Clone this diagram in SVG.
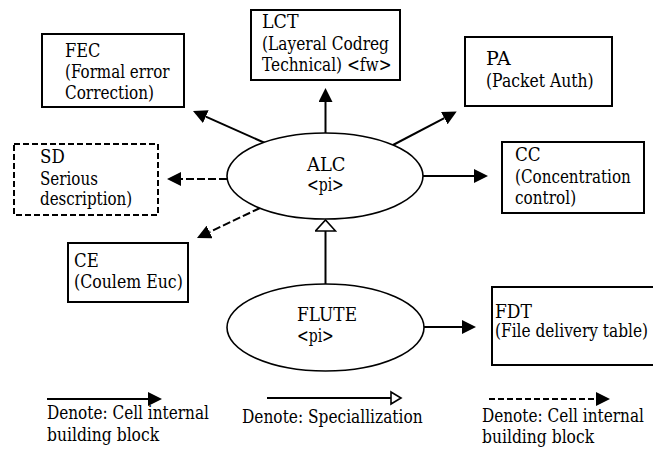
<svg xmlns="http://www.w3.org/2000/svg" width="653" height="449" viewBox="0 0 653 449">
  <style>
    .t { font-family: "DejaVu Serif", serif; font-size: 18px; fill: #000; }
    .box { fill: #fff; stroke: #000; stroke-width: 2; }
    .dbox { fill: #fff; stroke: #000; stroke-width: 2; stroke-dasharray: 6 3; }
    .oval { fill: #fff; stroke: #000; stroke-width: 1.6; }
    .link { fill: none; stroke: #000; stroke-width: 2; }
    .dash { fill: none; stroke: #000; stroke-width: 2; stroke-dasharray: 8 3; }
    .ldash { fill: none; stroke: #000; stroke-width: 2.2; stroke-dasharray: 6 3; }
  </style>
  <defs>
    <marker id="filled" markerUnits="userSpaceOnUse" markerWidth="15" markerHeight="14" refX="0" refY="7" orient="auto">
      <path d="M0,0 L14,7 L0,14 z" fill="#000"/>
    </marker>
    <marker id="hollow" markerUnits="userSpaceOnUse" markerWidth="14" markerHeight="22" refX="1" refY="11" orient="auto">
      <path d="M1,1 L12,11 L1,21 z" fill="#fff" stroke="#000" stroke-width="1.6"/>
    </marker>
    <marker id="hollowSmall" markerUnits="userSpaceOnUse" markerWidth="14" markerHeight="16" refX="1" refY="8" orient="auto">
      <path d="M1,2 L11,8 L1,14 z" fill="#fff" stroke="#000" stroke-width="1.6"/>
    </marker>
  </defs>

  <!-- connectors -->
  <g id="connectors">
    <line class="link" x1="325.5" y1="133" x2="325.5" y2="102" marker-end="url(#filled)"/>
    <line class="link" x1="265" y1="143" x2="205.8" y2="116.7" marker-end="url(#filled)"/>
    <line class="link" x1="393" y1="145" x2="444.3" y2="118.1" marker-end="url(#filled)"/>
    <line class="link" x1="423" y1="176" x2="474" y2="176" marker-end="url(#filled)"/>
    <line class="dash" x1="227" y1="179" x2="181" y2="179" marker-end="url(#filled)"/>
    <line class="dash" x1="260" y1="208" x2="209.6" y2="232" marker-end="url(#filled)"/>
    <line class="link" x1="325.5" y1="284" x2="325.5" y2="231" marker-end="url(#hollow)"/>
    <line class="link" x1="424" y1="327" x2="462" y2="327" marker-end="url(#filled)"/>
  </g>

  <!-- ALC -->
  <g id="alc">
    <ellipse class="oval" cx="325" cy="176" rx="98" ry="43"/>
    <text class="t" x="307" y="171" textLength="38.6" lengthAdjust="spacingAndGlyphs">ALC</text>
    <text class="t" x="307" y="191" textLength="36.8" lengthAdjust="spacingAndGlyphs">&lt;pi&gt;</text>
  </g>

  <!-- FLUTE -->
  <g id="flute">
    <ellipse class="oval" cx="325.5" cy="327.5" rx="98.5" ry="43.5"/>
    <text class="t" x="297" y="321" textLength="60" lengthAdjust="spacingAndGlyphs">FLUTE</text>
    <text class="t" x="297" y="342" textLength="36.8" lengthAdjust="spacingAndGlyphs">&lt;pi&gt;</text>
  </g>

  <!-- FEC -->
  <g id="fec">
    <rect class="box" x="42" y="34" width="142" height="73"/>
    <text class="t" x="65" y="57" textLength="35.4" lengthAdjust="spacingAndGlyphs">FEC</text>
    <text class="t" x="65" y="78" textLength="104.5" lengthAdjust="spacingAndGlyphs">(Formal error</text>
    <text class="t" x="65" y="99" textLength="89" lengthAdjust="spacingAndGlyphs">Correction)</text>
  </g>

  <!-- LCT -->
  <g id="lct">
    <rect class="box" x="251" y="10" width="149" height="70"/>
    <text class="t" x="262" y="28" textLength="36.5" lengthAdjust="spacingAndGlyphs">LCT</text>
    <text class="t" x="262" y="50" textLength="127" lengthAdjust="spacingAndGlyphs">(Layeral Codreg</text>
    <text class="t" x="262" y="71" textLength="129.5" lengthAdjust="spacingAndGlyphs">Technical) &lt;fw&gt;</text>
  </g>

  <!-- PA -->
  <g id="pa">
    <rect class="box" x="465" y="37" width="147" height="69"/>
    <text class="t" x="486" y="65" textLength="24.7" lengthAdjust="spacingAndGlyphs">PA</text>
    <text class="t" x="486" y="87" textLength="107.7" lengthAdjust="spacingAndGlyphs">(Packet Auth)</text>
  </g>

  <!-- SD -->
  <g id="sd">
    <rect class="dbox" x="14" y="144" width="144" height="71"/>
    <text class="t" x="40" y="163" textLength="24.7" lengthAdjust="spacingAndGlyphs">SD</text>
    <text class="t" x="40" y="185" textLength="57.9" lengthAdjust="spacingAndGlyphs">Serious</text>
    <text class="t" x="40" y="205" textLength="92.2" lengthAdjust="spacingAndGlyphs">description)</text>
  </g>

  <!-- CC -->
  <g id="cc">
    <rect class="box" x="502" y="142" width="142" height="71"/>
    <text class="t" x="515" y="161" textLength="25.7" lengthAdjust="spacingAndGlyphs">CC</text>
    <text class="t" x="515" y="183" textLength="115.8" lengthAdjust="spacingAndGlyphs">(Concentration</text>
    <text class="t" x="515" y="204" textLength="61.1" lengthAdjust="spacingAndGlyphs">control)</text>
  </g>

  <!-- CE -->
  <g id="ce">
    <rect class="box" x="68" y="243" width="120" height="59"/>
    <text class="t" x="74" y="267" textLength="24.7" lengthAdjust="spacingAndGlyphs">CE</text>
    <text class="t" x="74" y="288" textLength="108.8" lengthAdjust="spacingAndGlyphs">(Coulem Euc)</text>
  </g>

  <!-- FDT -->
  <g id="fdt">
    <rect class="box" x="492" y="287" width="170" height="78"/>
    <text class="t" x="495" y="318" textLength="37" lengthAdjust="spacingAndGlyphs">FDT</text>
    <text class="t" x="495" y="337" textLength="153" lengthAdjust="spacingAndGlyphs">(File delivery table)</text>
  </g>

  <!-- legend -->
  <g id="legend">
    <line class="link" x1="47" y1="399" x2="148" y2="399" marker-end="url(#filled)"/>
    <text class="t" x="47" y="419" textLength="161.9" lengthAdjust="spacingAndGlyphs">Denote: Cell internal</text>
    <text class="t" x="47" y="441" textLength="112.1" lengthAdjust="spacingAndGlyphs">building block</text>

    <line class="link" x1="267" y1="398" x2="391" y2="398" marker-end="url(#hollowSmall)"/>
    <text class="t" x="242" y="423" textLength="180.6" lengthAdjust="spacingAndGlyphs">Denote: Speciallization</text>

    <line class="ldash" x1="489" y1="399" x2="596" y2="399" marker-end="url(#filled)"/>
    <text class="t" x="482" y="422" textLength="161.9" lengthAdjust="spacingAndGlyphs">Denote: Cell internal</text>
    <text class="t" x="482" y="443" textLength="112.1" lengthAdjust="spacingAndGlyphs">building block</text>
  </g>
</svg>
